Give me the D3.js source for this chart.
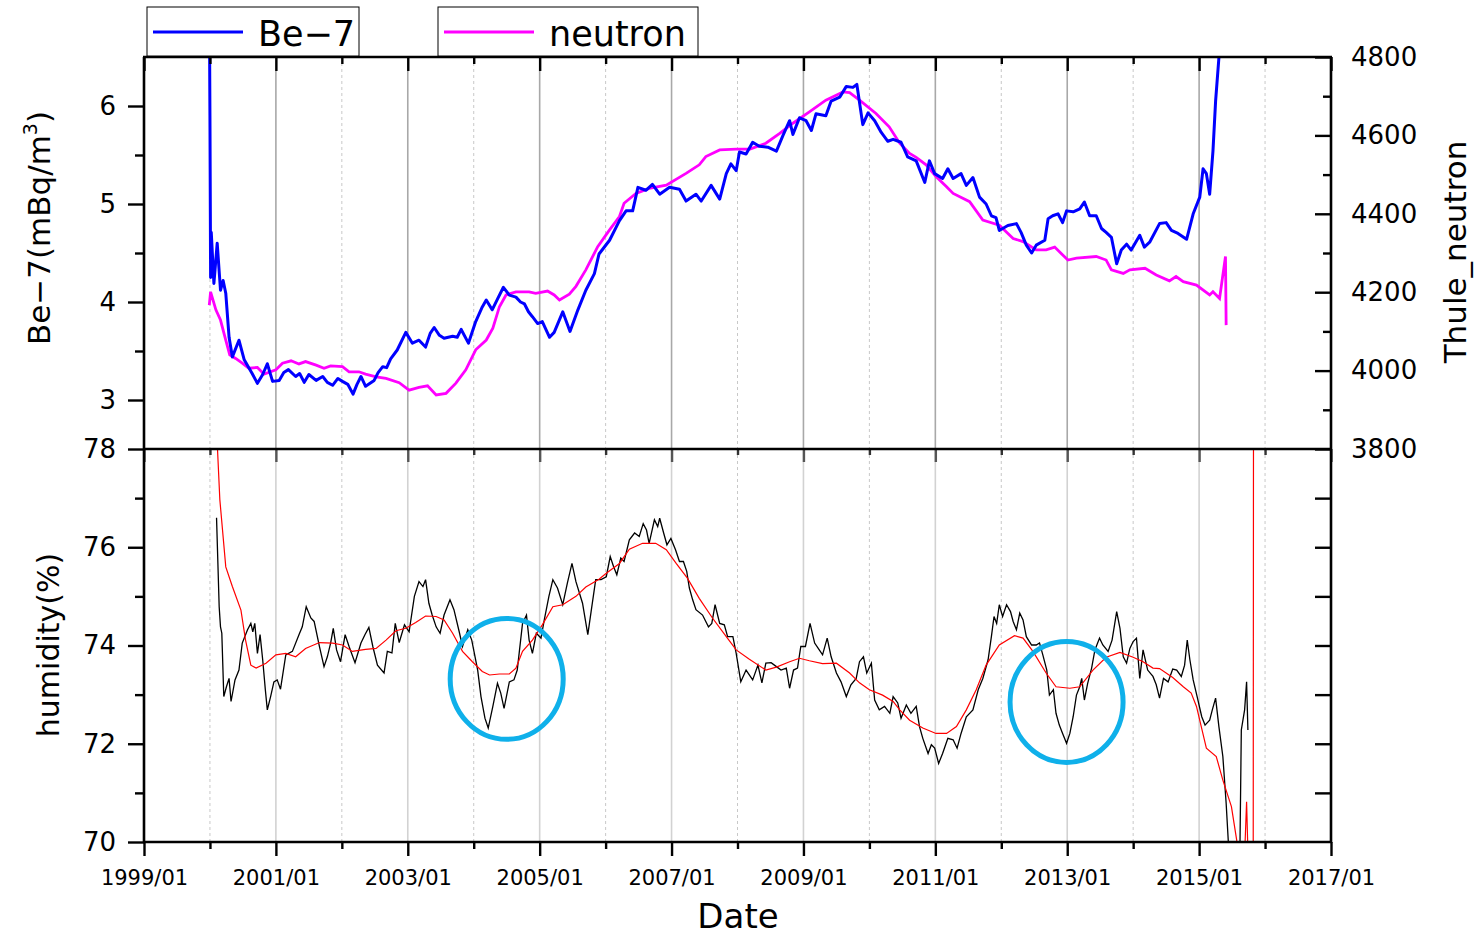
<!DOCTYPE html>
<html>
<head>
<meta charset="utf-8">
<script src="https://cdn.jsdelivr.net/npm/d3@7"></script>
<style>
  body { margin: 0; background: #fff; }
  svg { display: block; font-family: "DejaVu Sans", sans-serif; }
</style>
</head>
<body>
<svg id="chart" width="1480" height="936"></svg>
<script>
// Year ticks: labelled every 2 years, minor every year
const majorYears = [1999, 2001, 2003, 2005, 2007, 2009, 2011, 2013, 2015, 2017];
const minorYears = [2000, 2002, 2004, 2006, 2008, 2010, 2012, 2014, 2016];
const be7Ticks = [3, 4, 5, 6];
const be7Minor = [3.5, 4.5, 5.5];
const neutronTicks = [3800, 4000, 4200, 4400, 4600, 4800];
const neutronMinor = [3900, 4100, 4300, 4500, 4700];
const humTicks = [70, 72, 74, 76, 78];
const humMinor = [71, 73, 75, 77];

// Be-7 (mBq/m3), [decimal year, value]
const be7 = [[1999.99,7.2],[2000.00,5.9],[2000.01,4.25],[2000.02,4.71],[2000.06,4.19],[2000.11,4.60],[2000.16,4.12],[2000.20,4.22],[2000.24,4.09],[2000.29,3.64],[2000.34,3.44],[2000.44,3.61],[2000.52,3.41],[2000.64,3.27],[2000.72,3.17],[2000.80,3.26],[2000.87,3.37],[2000.95,3.19],[2001.05,3.20],[2001.12,3.28],[2001.19,3.31],[2001.30,3.24],[2001.36,3.27],[2001.43,3.18],[2001.50,3.26],[2001.61,3.20],[2001.71,3.24],[2001.78,3.18],[2001.86,3.15],[2001.94,3.22],[2002.01,3.19],[2002.09,3.16],[2002.17,3.06],[2002.23,3.16],[2002.29,3.24],[2002.36,3.14],[2002.49,3.20],[2002.55,3.28],[2002.62,3.34],[2002.68,3.33],[2002.74,3.42],[2002.84,3.51],[2002.97,3.69],[2003.07,3.58],[2003.17,3.61],[2003.27,3.54],[2003.34,3.68],[2003.40,3.74],[2003.48,3.66],[2003.55,3.63],[2003.68,3.65],[2003.75,3.64],[2003.81,3.72],[2003.92,3.58],[2004.03,3.80],[2004.13,3.95],[2004.19,4.02],[2004.28,3.92],[2004.36,4.03],[2004.45,4.15],[2004.54,4.07],[2004.64,4.05],[2004.71,4.00],[2004.77,3.98],[2004.83,3.90],[2004.89,3.85],[2004.97,3.78],[2005.04,3.80],[2005.15,3.64],[2005.22,3.69],[2005.35,3.90],[2005.46,3.70],[2005.58,3.92],[2005.70,4.12],[2005.83,4.29],[2005.90,4.49],[2006.06,4.63],[2006.21,4.83],[2006.31,4.93],[2006.41,4.93],[2006.49,5.17],[2006.61,5.14],[2006.71,5.20],[2006.82,5.10],[2006.97,5.17],[2007.12,5.15],[2007.22,5.03],[2007.37,5.10],[2007.45,5.03],[2007.60,5.19],[2007.73,5.05],[2007.83,5.31],[2007.90,5.41],[2007.98,5.34],[2008.03,5.53],[2008.13,5.51],[2008.23,5.63],[2008.33,5.59],[2008.46,5.58],[2008.59,5.54],[2008.69,5.70],[2008.79,5.85],[2008.84,5.71],[2008.94,5.88],[2009.04,5.85],[2009.12,5.75],[2009.19,5.92],[2009.34,5.90],[2009.42,6.05],[2009.55,6.09],[2009.65,6.20],[2009.75,6.19],[2009.81,6.22],[2009.90,5.81],[2009.98,5.93],[2010.08,5.85],[2010.18,5.73],[2010.28,5.64],[2010.36,5.66],[2010.48,5.63],[2010.58,5.48],[2010.71,5.44],[2010.84,5.22],[2010.91,5.44],[2010.99,5.31],[2011.11,5.26],[2011.19,5.36],[2011.27,5.26],[2011.39,5.31],[2011.47,5.19],[2011.57,5.27],[2011.67,5.07],[2011.77,5.00],[2011.85,4.88],[2011.92,4.86],[2011.97,4.73],[2012.10,4.78],[2012.23,4.80],[2012.30,4.71],[2012.38,4.58],[2012.46,4.50],[2012.53,4.58],[2012.66,4.63],[2012.71,4.85],[2012.78,4.88],[2012.86,4.90],[2012.93,4.81],[2012.99,4.93],[2013.09,4.92],[2013.19,4.95],[2013.26,5.02],[2013.34,4.88],[2013.44,4.88],[2013.52,4.75],[2013.59,4.71],[2013.67,4.66],[2013.75,4.39],[2013.82,4.53],[2013.90,4.59],[2013.97,4.53],[2014.10,4.68],[2014.17,4.56],[2014.25,4.61],[2014.40,4.80],[2014.50,4.81],[2014.58,4.73],[2014.68,4.70],[2014.81,4.64],[2014.91,4.90],[2015.01,5.07],[2015.06,5.36],[2015.11,5.31],[2015.16,5.10],[2015.21,5.54],[2015.25,6.05],[2015.30,6.49],[2015.34,7.00]];

// Thule neutron counts
const neutron = [[1999.99,4167],[2000.01,4201],[2000.09,4155],[2000.16,4129],[2000.24,4078],[2000.30,4040],[2000.39,4031],[2000.49,4019],[2000.59,4006],[2000.72,4008],[2000.82,3991],[2001.00,4002],[2001.10,4019],[2001.23,4025],[2001.35,4017],[2001.45,4023],[2001.61,4014],[2001.73,4006],[2001.83,4012],[2002.01,4010],[2002.11,3997],[2002.26,3997],[2002.36,3991],[2002.52,3984],[2002.67,3980],[2002.87,3969],[2003.02,3950],[2003.17,3957],[2003.30,3961],[2003.43,3938],[2003.58,3942],[2003.73,3968],[2003.88,4002],[2004.03,4053],[2004.19,4078],[2004.29,4108],[2004.39,4163],[2004.49,4193],[2004.64,4201],[2004.84,4201],[2004.94,4197],[2005.12,4203],[2005.22,4193],[2005.30,4180],[2005.45,4195],[2005.55,4215],[2005.70,4257],[2005.88,4316],[2006.06,4359],[2006.21,4393],[2006.28,4427],[2006.46,4452],[2006.66,4465],[2006.92,4473],[2007.22,4503],[2007.42,4525],[2007.52,4546],[2007.73,4563],[2007.98,4565],[2008.19,4565],[2008.43,4580],[2008.64,4605],[2008.84,4631],[2009.09,4660],[2009.34,4690],[2009.60,4711],[2009.70,4709],[2009.85,4690],[2010.10,4656],[2010.30,4622],[2010.46,4580],[2010.61,4554],[2010.71,4544],[2010.86,4525],[2011.01,4495],[2011.17,4469],[2011.27,4452],[2011.52,4431],[2011.72,4384],[2011.97,4371],[2012.18,4337],[2012.33,4329],[2012.53,4308],[2012.68,4308],[2012.81,4315],[2013.01,4282],[2013.14,4287],[2013.44,4291],[2013.59,4282],[2013.67,4257],[2013.85,4248],[2013.95,4257],[2014.18,4261],[2014.35,4244],[2014.55,4229],[2014.65,4240],[2014.76,4227],[2014.96,4218],[2015.16,4193],[2015.21,4201],[2015.31,4184],[2015.40,4291],[2015.41,4116]];

// humidity (%)
const humidity = [[2000.10,76.6],[2000.14,74.79],[2000.16,74.38],[2000.18,74.25],[2000.21,72.96],[2000.25,73.16],[2000.29,73.33],[2000.32,72.86],[2000.38,73.30],[2000.44,73.50],[2000.49,74.05],[2000.57,74.32],[2000.62,74.45],[2000.65,74.28],[2000.68,74.45],[2000.72,73.84],[2000.76,74.22],[2000.80,73.71],[2000.84,73.10],[2000.87,72.69],[2000.92,72.96],[2000.97,73.26],[2001.02,73.30],[2001.07,73.11],[2001.15,73.81],[2001.25,73.88],[2001.35,74.22],[2001.40,74.38],[2001.46,74.79],[2001.53,74.56],[2001.58,74.49],[2001.66,73.98],[2001.73,73.57],[2001.78,73.77],[2001.83,74.05],[2001.87,74.35],[2001.92,73.91],[2001.98,73.67],[2002.05,74.22],[2002.11,73.98],[2002.20,73.65],[2002.29,74.05],[2002.35,74.22],[2002.41,74.37],[2002.47,73.98],[2002.54,73.60],[2002.64,73.44],[2002.69,73.88],[2002.76,73.85],[2002.81,74.45],[2002.87,74.06],[2002.95,74.42],[2003.02,74.28],[2003.10,75.00],[2003.17,75.30],[2003.23,75.20],[2003.27,75.34],[2003.32,74.86],[2003.37,74.62],[2003.43,74.38],[2003.49,74.25],[2003.55,74.62],[2003.64,74.93],[2003.70,74.73],[2003.78,74.28],[2003.83,73.98],[2003.91,74.32],[2003.97,74.11],[2004.06,73.50],[2004.11,72.96],[2004.17,72.52],[2004.22,72.32],[2004.29,72.76],[2004.36,73.23],[2004.41,73.03],[2004.46,72.72],[2004.54,73.26],[2004.61,73.30],[2004.66,73.50],[2004.74,74.45],[2004.80,74.62],[2004.84,74.11],[2004.89,73.84],[2004.95,74.25],[2005.02,74.15],[2005.07,74.52],[2005.14,75.00],[2005.20,75.34],[2005.27,75.17],[2005.35,74.83],[2005.42,75.27],[2005.49,75.67],[2005.55,75.30],[2005.65,74.86],[2005.73,74.22],[2005.78,74.69],[2005.85,75.34],[2005.93,75.34],[2006.01,75.40],[2006.07,75.81],[2006.12,75.61],[2006.17,75.44],[2006.23,75.78],[2006.28,75.71],[2006.36,76.15],[2006.44,76.29],[2006.51,76.22],[2006.57,76.48],[2006.62,76.35],[2006.66,76.08],[2006.74,76.56],[2006.79,76.42],[2006.82,76.59],[2006.88,76.29],[2006.93,76.05],[2006.99,76.18],[2007.06,75.95],[2007.12,75.71],[2007.18,75.71],[2007.23,75.51],[2007.27,75.17],[2007.32,74.93],[2007.37,74.73],[2007.47,74.62],[2007.56,74.38],[2007.61,74.45],[2007.66,74.83],[2007.73,74.45],[2007.80,74.42],[2007.85,74.18],[2007.93,74.18],[2007.98,73.84],[2008.05,73.26],[2008.13,73.50],[2008.23,73.30],[2008.31,73.60],[2008.37,73.24],[2008.43,73.64],[2008.51,73.65],[2008.59,73.57],[2008.66,73.50],[2008.74,73.54],[2008.79,73.13],[2008.85,73.50],[2008.91,73.54],[2008.96,73.98],[2009.03,73.98],[2009.10,74.45],[2009.17,74.05],[2009.24,73.91],[2009.29,73.81],[2009.36,74.15],[2009.42,73.77],[2009.50,73.44],[2009.57,73.26],[2009.65,72.96],[2009.72,73.20],[2009.80,73.33],[2009.85,73.67],[2009.91,73.77],[2009.96,73.44],[2010.03,73.64],[2010.08,72.89],[2010.15,72.69],[2010.23,72.76],[2010.31,72.62],[2010.36,72.96],[2010.43,72.83],[2010.48,72.52],[2010.56,72.79],[2010.63,72.62],[2010.71,72.76],[2010.76,72.35],[2010.81,72.11],[2010.89,71.80],[2010.94,71.98],[2010.99,71.91],[2011.05,71.60],[2011.11,71.80],[2011.19,72.11],[2011.27,72.08],[2011.33,71.91],[2011.39,72.21],[2011.47,72.55],[2011.57,72.69],[2011.65,73.10],[2011.72,73.33],[2011.80,73.71],[2011.85,74.18],[2011.89,74.59],[2011.93,74.45],[2011.97,74.83],[2012.02,74.59],[2012.08,74.83],[2012.14,74.69],[2012.18,74.49],[2012.23,74.32],[2012.28,74.66],[2012.33,74.52],[2012.38,74.18],[2012.46,74.01],[2012.53,74.01],[2012.58,74.05],[2012.63,73.81],[2012.69,73.50],[2012.73,72.99],[2012.79,73.10],[2012.83,72.62],[2012.88,72.38],[2012.93,72.21],[2012.99,72.01],[2013.04,72.21],[2013.09,72.55],[2013.14,72.99],[2013.19,73.16],[2013.22,73.33],[2013.26,72.89],[2013.31,73.23],[2013.37,73.54],[2013.42,73.91],[2013.49,74.15],[2013.54,74.01],[2013.62,73.88],[2013.68,74.11],[2013.75,74.69],[2013.80,74.35],[2013.85,73.77],[2013.90,73.64],[2013.95,73.94],[2014.00,74.08],[2014.05,74.15],[2014.10,73.33],[2014.15,73.91],[2014.22,73.50],[2014.30,73.37],[2014.35,73.20],[2014.40,72.93],[2014.46,73.33],[2014.53,73.26],[2014.60,73.52],[2014.66,73.50],[2014.73,73.37],[2014.78,73.60],[2014.82,74.11],[2014.86,73.71],[2014.91,73.30],[2014.97,72.96],[2015.04,72.55],[2015.09,72.38],[2015.16,72.48],[2015.20,72.69],[2015.25,72.93],[2015.30,72.35],[2015.36,71.74],[2015.41,70.79],[2015.45,69.84],[2015.51,66.5],[2015.59,66.5],[2015.64,72.28],[2015.69,72.69],[2015.72,73.26],[2015.74,72.28]];

// smoothed humidity (%)
const humiditySmooth = [[2000.08,79.0],[2000.15,76.97],[2000.24,75.60],[2000.34,75.20],[2000.47,74.72],[2000.54,74.11],[2000.62,73.60],[2000.70,73.54],[2000.85,73.64],[2001.00,73.81],[2001.15,73.84],[2001.30,73.77],[2001.45,73.94],[2001.66,74.06],[2001.86,74.05],[2002.01,74.01],[2002.16,73.88],[2002.36,73.92],[2002.52,73.94],[2002.67,74.11],[2002.82,74.30],[2002.97,74.35],[2003.12,74.47],[2003.27,74.60],[2003.43,74.59],[2003.55,74.52],[2003.68,74.25],[2003.83,73.88],[2003.98,73.67],[2004.13,73.47],[2004.24,73.40],[2004.39,73.42],[2004.54,73.42],[2004.64,73.54],[2004.74,73.88],[2004.89,74.11],[2005.04,74.42],[2005.20,74.79],[2005.35,74.83],[2005.55,75.00],[2005.70,75.19],[2005.90,75.35],[2006.01,75.47],[2006.21,75.67],[2006.36,75.96],[2006.56,76.08],[2006.76,76.08],[2006.92,75.95],[2007.07,75.67],[2007.24,75.37],[2007.42,74.96],[2007.62,74.56],[2007.83,74.18],[2007.98,73.91],[2008.18,73.72],[2008.43,73.50],[2008.59,73.56],[2008.79,73.67],[2008.94,73.74],[2009.09,73.69],[2009.29,73.63],[2009.50,73.64],[2009.70,73.44],[2009.85,73.24],[2010.00,73.10],[2010.20,72.99],[2010.36,72.86],[2010.46,72.69],[2010.61,72.48],[2010.81,72.32],[2011.01,72.21],[2011.17,72.21],[2011.32,72.35],[2011.47,72.69],[2011.62,73.10],[2011.77,73.60],[2011.97,74.01],[2012.20,74.20],[2012.33,74.15],[2012.48,73.88],[2012.68,73.44],[2012.83,73.16],[2013.04,73.13],[2013.19,73.16],[2013.39,73.50],[2013.59,73.76],[2013.80,73.86],[2014.00,73.76],[2014.15,73.67],[2014.30,73.54],[2014.40,73.53],[2014.60,73.35],[2014.76,73.16],[2014.88,73.03],[2014.96,72.76],[2015.11,71.91],[2015.26,71.74],[2015.36,71.26],[2015.49,70.72],[2015.57,70.04],[2015.61,69.0],[2015.67,69.0],[2015.72,70.82],[2015.75,69.3],[2015.80,68.5],[2015.82,68.5],[2015.83,90.0]];

// highlighted humidity dips: [year, humidity]
const dips = [[2004.50, 73.32], [2012.99, 72.85]];

const L = 144, R = 1331, T = 57, M = 449, B = 842;
const svg = d3.select('#chart');

const x = d3.scaleLinear().domain([1999, 2017]).range([L, R]);
const yBe = d3.scaleLinear().domain([2.5, 6.5]).range([M, T]);
const yN = d3.scaleLinear().domain([3800, 4800]).range([M, T]);
const yH = d3.scaleLinear().domain([70, 78]).range([B, M]);

const defs = svg.append('defs');
defs.append('clipPath').attr('id', 'clipTop')
  .append('rect').attr('x', L).attr('y', T).attr('width', R - L).attr('height', M - T);
defs.append('clipPath').attr('id', 'clipBot')
  .append('rect').attr('x', L).attr('y', M).attr('width', R - L).attr('height', B - M);

// vertical gridlines per panel
function grid(y0, y1, solidColor) {
  const g = svg.append('g');
  g.selectAll('line.maj').data(majorYears.slice(1, -1)).enter().append('line')
    .attr('x1', d => x(d)).attr('x2', d => x(d)).attr('y1', y0).attr('y2', y1)
    .attr('stroke', solidColor).attr('stroke-width', 1.6);
  g.selectAll('line.min').data(minorYears).enter().append('line')
    .attr('x1', d => x(d)).attr('x2', d => x(d)).attr('y1', y0).attr('y2', y1)
    .attr('stroke', '#c8c8c8').attr('stroke-width', 1).attr('stroke-dasharray', '3,3');
}
grid(T, M, '#a8a8a8');
grid(M, B, '#d2d2d2');

// series
const line = yScale => d3.line().x(d => x(d[0])).y(d => yScale(d[1]));

const gTop = svg.append('g').attr('clip-path', 'url(#clipTop)');
gTop.append('path').datum(neutron).attr('d', line(yN))
  .attr('fill', 'none').attr('stroke', '#ff00ff').attr('stroke-width', 2.8);
gTop.append('path').datum(be7).attr('d', line(yBe))
  .attr('fill', 'none').attr('stroke', '#0000ff').attr('stroke-width', 3)
  .attr('stroke-linejoin', 'round');

const gBot = svg.append('g').attr('clip-path', 'url(#clipBot)');
gBot.append('path').datum(humidity).attr('d', line(yH))
  .attr('fill', 'none').attr('stroke', '#000').attr('stroke-width', 1.3);
gBot.append('path').datum(humiditySmooth).attr('d', line(yH))
  .attr('fill', 'none').attr('stroke', '#ff0000').attr('stroke-width', 1.2);

// circles around the dips
gBot.selectAll('ellipse').data(dips).enter().append('ellipse')
  .attr('cx', d => x(d[0])).attr('cy', d => yH(d[1]))
  .attr('rx', x(1999.857) - x(1999)).attr('ry', yH(70) - yH(71.23))
  .attr('fill', 'none').attr('stroke', '#0fb0ea').attr('stroke-width', 5);

// axes
function styleAxis(g, color) {
  g.select('.domain').remove();
  g.selectAll('.tick line').attr('stroke', color || '#000').attr('stroke-width', 2.4);
  g.selectAll('.tick text').attr('fill', '#000');
}
const num = d3.format('d');

// bottom axis with labels
svg.append('g').attr('transform', `translate(0,${B})`)
  .call(d3.axisBottom(x).tickValues(majorYears).tickSize(14).tickPadding(14)
    .tickFormat(d => d + '/01'))
  .call(g => { styleAxis(g); g.selectAll('text').attr('font-size', 21).attr('font-family', 'DejaVu Sans'); });
svg.append('g').attr('transform', `translate(0,${B})`)
  .call(d3.axisBottom(x).tickValues(minorYears).tickSize(7).tickFormat(''))
  .call(g => styleAxis(g));

// top edge and middle ticks (inward)
svg.append('g').attr('transform', `translate(0,${T})`)
  .call(d3.axisBottom(x).tickValues(majorYears).tickSize(14).tickFormat(''))
  .call(g => styleAxis(g));
svg.append('g').attr('transform', `translate(0,${T})`)
  .call(d3.axisBottom(x).tickValues(minorYears).tickSize(7).tickFormat(''))
  .call(g => styleAxis(g));
svg.append('g').attr('transform', `translate(0,${M})`)
  .call(d3.axisBottom(x).tickValues(majorYears).tickSize(13).tickFormat(''))
  .call(g => styleAxis(g, '#555'));
svg.append('g').attr('transform', `translate(0,${M})`)
  .call(d3.axisBottom(x).tickValues(minorYears).tickSize(6).tickFormat(''))
  .call(g => styleAxis(g, '#333'));

// left axes
svg.append('g').attr('transform', `translate(${L},0)`)
  .call(d3.axisLeft(yBe).tickValues(be7Ticks).tickSize(16).tickPadding(12).tickFormat(num))
  .call(g => { styleAxis(g); g.selectAll('text').attr('font-size', 26).attr('font-family', 'DejaVu Sans'); });
svg.append('g').attr('transform', `translate(${L},0)`)
  .call(d3.axisLeft(yBe).tickValues(be7Minor).tickSize(9).tickFormat(''))
  .call(g => styleAxis(g));
svg.append('g').attr('transform', `translate(${L},0)`)
  .call(d3.axisLeft(yH).tickValues(humTicks).tickSize(16).tickPadding(12).tickFormat(num))
  .call(g => { styleAxis(g); g.selectAll('text').attr('font-size', 26).attr('font-family', 'DejaVu Sans'); });
svg.append('g').attr('transform', `translate(${L},0)`)
  .call(d3.axisLeft(yH).tickValues(humMinor).tickSize(9).tickFormat(''))
  .call(g => styleAxis(g));

// right axes (inward ticks)
svg.append('g').attr('transform', `translate(${R},0)`)
  .call(d3.axisRight(yN).tickValues(neutronTicks).tickSize(-16).tickPadding(20).tickFormat(num))
  .call(g => { styleAxis(g); g.selectAll('text').attr('font-size', 26).attr('font-family', 'DejaVu Sans'); });
svg.append('g').attr('transform', `translate(${R},0)`)
  .call(d3.axisRight(yN).tickValues(neutronMinor).tickSize(-8).tickFormat(''))
  .call(g => styleAxis(g));
svg.append('g').attr('transform', `translate(${R},0)`)
  .call(d3.axisRight(yH).tickValues([71, 72, 73, 74, 75, 76, 77]).tickSize(-16).tickFormat(''))
  .call(g => styleAxis(g));

// frame
const frame = svg.append('g').attr('stroke', '#000').attr('stroke-width', 2.6);
frame.append('line').attr('x1', L).attr('x2', L).attr('y1', T).attr('y2', B + 1);
frame.append('line').attr('x1', R).attr('x2', R).attr('y1', T).attr('y2', B + 1);
[T, M, B].forEach(yy => frame.append('line').attr('x1', L - 1).attr('x2', R + 1).attr('y1', yy).attr('y2', yy));

// axis titles
const be7Title = svg.append('text').attr('transform', 'translate(50,228) rotate(-90)')
  .attr('text-anchor', 'middle').attr('font-size', 31);
be7Title.append('tspan').text('Be\u22127(mBq/m');
be7Title.append('tspan').attr('font-size', 19).attr('dy', -13).text('3');
be7Title.append('tspan').attr('dy', 13).text(')');

svg.append('text').attr('transform', 'translate(59,645) rotate(-90)')
  .attr('text-anchor', 'middle').attr('font-size', 30).text('humidity(%)');
svg.append('text').attr('transform', 'translate(1466,252) rotate(-90)')
  .attr('text-anchor', 'middle').attr('font-size', 31).text('Thule_neutron');
svg.append('text').attr('x', 738).attr('y', 928)
  .attr('text-anchor', 'middle').attr('font-size', 34).text('Date');

// legend boxes
const legendItems = [
  { name: 'Be\u22127', color: '#0000ff', x0: 147, x1: 359 },
  { name: 'neutron', color: '#ff00ff', x0: 438, x1: 698 }
];
const leg = svg.selectAll('g.legend').data(legendItems).enter().append('g').attr('class', 'legend');
leg.append('rect').attr('x', d => d.x0).attr('y', 7).attr('width', d => d.x1 - d.x0).attr('height', 49)
  .attr('fill', '#fff').attr('stroke', '#000').attr('stroke-width', 1);
leg.append('line').attr('x1', d => d.x0 + 6).attr('x2', d => d.x0 + 96).attr('y1', 32).attr('y2', 32)
  .attr('stroke', d => d.color).attr('stroke-width', 3);
leg.append('text').attr('x', d => d.x0 + 111).attr('y', 46).attr('font-size', 35).text(d => d.name);
</script>
</body>
</html>
